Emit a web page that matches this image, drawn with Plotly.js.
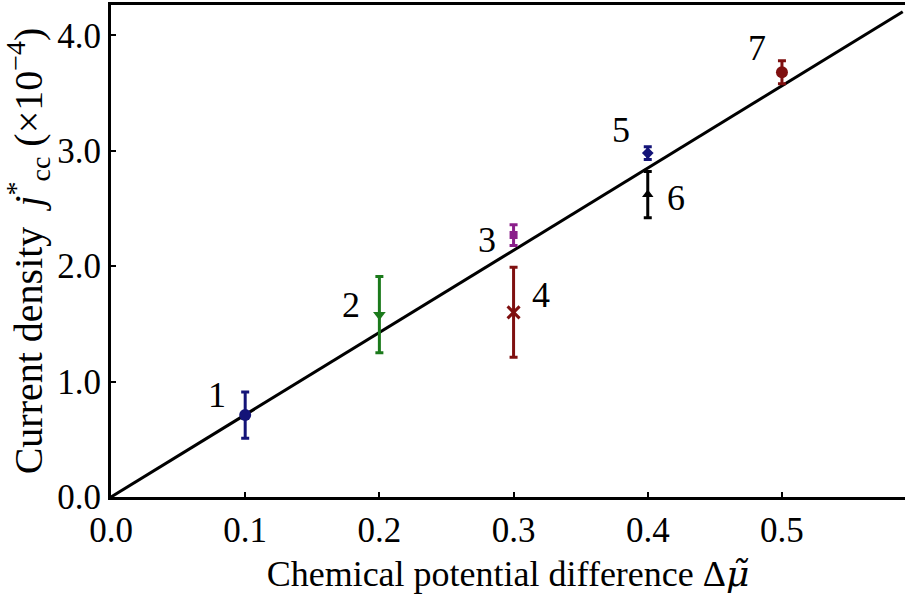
<!DOCTYPE html>
<html>
<head>
<meta charset="utf-8">
<script src="https://cdn.plot.ly/plotly-3.0.1.min.js"></script>
<style>html,body{margin:0;padding:0;background:#fff;}#chart{width:905px;height:603px;}</style>
</head>
<body>
<div id="chart"></div>
<script>
// Data
const labels   = ['1', '2', '3', '4', '5', '6', '7'];
const xVals    = [0.1, 0.2, 0.3, 0.3, 0.4, 0.4, 0.5];
const yVals    = [0.71, 1.58, 2.27, 1.60, 2.98, 2.62, 3.68];
const yErrs    = [0.20, 0.33, 0.09, 0.39, 0.055, 0.20, 0.10];
const fitX     = [0, 0.59];
const fitY     = [0, 4.205];
const xTicks   = [0.0, 0.1, 0.2, 0.3, 0.4, 0.5];
const yTicks   = [0.0, 1.0, 2.0, 3.0, 4.0];

// Styles (kept apart from data)
const colors  = ['#141478', '#1b7a1b', '#8a1f8a', '#7f1010', '#141478', '#000000', '#7f1010'];
const symbols = ['circle', 'triangle-down', 'square', 'x-thin-open', 'diamond', 'triangle-up', 'circle'];
const sizes   = [12, 11, 8, 12, 9, 10, 12];
const labelShift = [[-28, 20], [-28, 10], [-27, -5], [27, 17], [-27, 23], [28, -3], [-25, 24]];

const font = "Liberation Serif";

const traces = [{
  x: fitX, y: fitY, mode: 'lines', type: 'scatter',
  line: {color: '#000', width: 3}, hoverinfo: 'skip', showlegend: false
}];
for (let i = 0; i < xVals.length; i++) {
  traces.push({
    x: [xVals[i]], y: [yVals[i]], type: 'scatter', mode: 'markers', showlegend: false,
    marker: {color: colors[i], symbol: symbols[i], size: sizes[i],
             line: {color: colors[i], width: symbols[i] === 'x-thin-open' ? 3 : 0}},
    error_y: {type: 'data', array: [yErrs[i]], visible: true, color: colors[i], thickness: 3, width: 4}
  });
}

const annotations = labels.map((t, i) => ({
  x: xVals[i], y: yVals[i], xref: 'x', yref: 'y', text: t, showarrow: false,
  xshift: labelShift[i][0], yshift: labelShift[i][1],
  font: {family: font, size: 36, color: '#000'}
}));

const layout = {
  width: 905, height: 603,
  margin: {l: 111, r: 0, t: 5, b: 106},
  paper_bgcolor: '#fff', plot_bgcolor: '#fff',
  font: {family: font, color: '#000'},
  xaxis: {
    range: [0, 0.5917], tickvals: xTicks, ticktext: xTicks.map(v => v.toFixed(1)),
    ticks: 'inside', ticklen: 5, tickwidth: 2, tickcolor: '#000',
    showline: true, linewidth: 3, linecolor: '#000', mirror: true,
    showgrid: false, zeroline: false,
    tickfont: {family: font, size: 35, color: '#000'},
    title: {text: "Chemical potential difference Δ<span style=\"font-family:'DejaVu Serif'\"><i>μ̃</i></span>", font: {family: font, size: 36, color: '#000'}, standoff: 12}
  },
  yaxis: {
    range: [0, 4.263], tickvals: yTicks, ticktext: yTicks.map(v => v.toFixed(1)),
    ticks: 'inside', ticklen: 5, tickwidth: 2, tickcolor: '#000',
    showline: true, linewidth: 3, linecolor: '#000', mirror: false,
    showgrid: false, zeroline: false,
    tickfont: {family: font, size: 35, color: '#000'},
    title: {text: 'Current density  <i>j</i><sup>*</sup><sub>cc</sub> (×10<sup>−4</sup>)', font: {family: font, size: 40, color: '#000'}, standoff: 4}
  },
  annotations: annotations
};

Plotly.newPlot('chart', traces, layout, {displayModeBar: false, staticPlot: true});
</script>
</body>
</html>
